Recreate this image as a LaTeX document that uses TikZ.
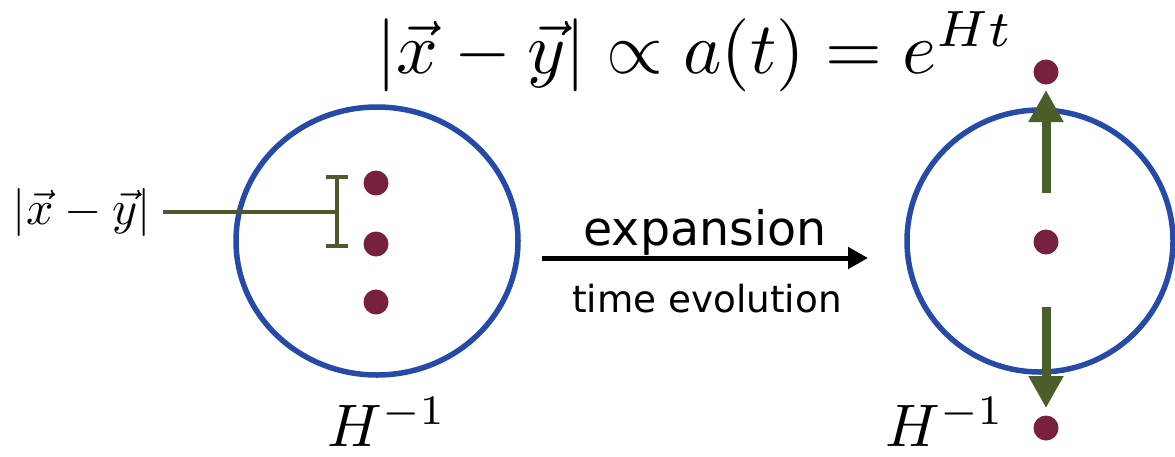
\documentclass[tikz,border=0pt]{standalone}
\usepackage{graphicx}
\usepackage{fontspec}
\newfontfamily\labelfont{DejaVu Sans}
\usetikzlibrary{arrows.meta,shapes.geometric}
\definecolor{ringblue}{RGB}{38,74,168}
\definecolor{dotred}{RGB}{120,32,64}
\definecolor{olive}{RGB}{74,90,42}
\definecolor{arrgreen}{RGB}{74,94,42}
\tikzset{
  ring/.style={draw=ringblue, line width=5.5pt, ellipse, inner sep=0pt},
  pt/.style={circle, fill=dotred, minimum size=25pt, inner sep=0pt},
  brk/.style={draw=olive, line width=3.5pt},
  growarrow/.style={draw=arrgreen, line width=9pt, -{Triangle[width=33pt,length=32pt]}},
  evo/.style={draw=black, line width=5pt, -{Triangle[width=21pt,length=20pt]}},
  mlab/.style={inner sep=0pt, anchor=base},
}
\begin{document}
\begin{tikzpicture}[x=1pt,y=-1pt]
\useasboundingbox (0,0) rectangle (1175,456);
% equation
\node[mlab] (eq) at (695,73) {\scalebox{7.3}{$|\vec{x}-\vec{y}|\propto a(t)=e^{Ht}$}};
% left circle
\node[ring, minimum width=282pt, minimum height=268pt] (c1) at (377,241) {};
\node[pt] (d1) at (376,183) {};
\node[pt] (d2) at (376,244) {};
\node[pt] (d3) at (376,302) {};
\node[mlab] (h1) at (387,446) {\scalebox{6}{$H^{-1}$}};
% bracket
\node[inner sep=0pt, anchor=base east] (lab) at (151,224) {\scalebox{4.8}{$|\vec{x}-\vec{y}|$}};
\coordinate (bt) at (337,177);
\coordinate (bb) at (337,246);
\coordinate (bm) at (337,212);
\draw[brk] ([xshift=-11pt]bt) -- ([xshift=11pt]bt);
\draw[brk] ([xshift=-11pt]bb) -- ([xshift=11pt]bb);
\draw[brk] (bt) -- (bb);
\draw[brk] ([xshift=12pt]lab.east |- bm) -- (bm);
% expansion arrow
\coordinate (ea) at (542,258);
\coordinate (eb) at (868,258);
\draw[evo] (ea) -- (eb);
\node[mlab] (exp) at (705,245) {\labelfont\fontsize{47.5}{50}\selectfont expansion};
\node[mlab] (tev) at (707,312) {\labelfont\fontsize{37.3}{40}\selectfont time evolution};
% right circle
\node[ring, minimum width=266pt, minimum height=262pt] (c2) at (1040,241) {};
\node[pt] (e1) at (1046,72) {};
\node[pt] (e2) at (1046,242) {};
\node[pt] (e3) at (1046,428) {};
\coordinate (ua) at (1046,193);
\coordinate (ub) at (1046,90);
\coordinate (da) at (1046,307);
\coordinate (db) at (1046,408);
\draw[growarrow] (ua) -- (ub);
\draw[growarrow] (da) -- (db);
\node[mlab] (h2) at (945,446) {\scalebox{6}{$H^{-1}$}};
\end{tikzpicture}
\end{document}
